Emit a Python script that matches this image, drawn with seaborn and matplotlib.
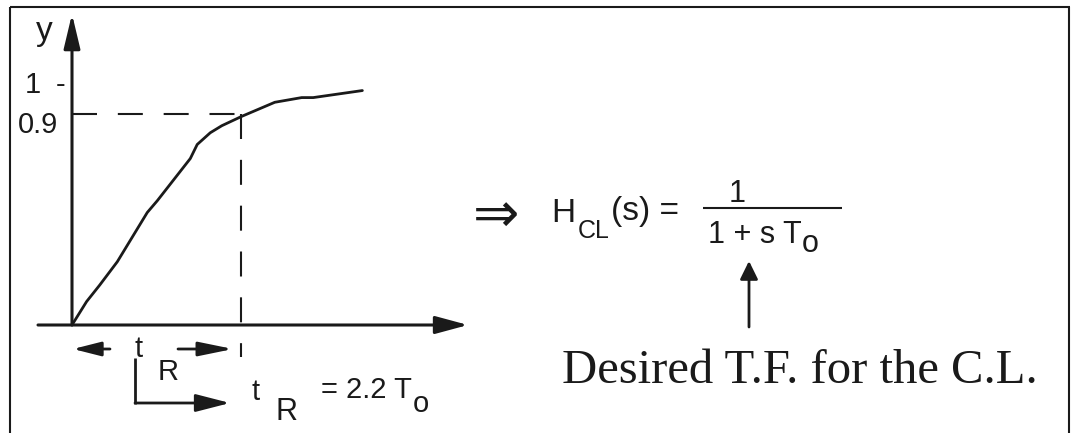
import pandas as pd
import matplotlib
matplotlib.use('Agg')
import matplotlib.pyplot as plt
import seaborn as sns

sns.set_theme(style='white')
plt.rcParams['font.family'] = ['Liberation Sans', 'DejaVu Sans']

# 阶跃响应曲线数据（时间以 T_o 为单位）
t_vals = [0.0, 0.19, 0.36, 0.59, 0.98, 1.11, 1.54, 1.63, 1.80, 1.95, 2.21, 2.64, 2.99, 3.14, 3.78]
y_vals = [0.0, 0.10, 0.17, 0.27, 0.48, 0.53, 0.71, 0.77, 0.82, 0.85, 0.89, 0.95, 0.97, 0.97, 1.00]
level = 0.9
t_rise = 2.2
y_labels = ['1', '0.9']

df = pd.DataFrame({'t': t_vals, 'y': y_vals})

# 画布尺寸（像素）与坐标换算
W, H = 1071, 433
X0, Y0 = 72, 325
kx = 169 / t_rise
ky = 211 / level


def P(x, y):
    return (x / W, 1 - y / H)


fig = plt.figure(figsize=(W / 100, H / 100), dpi=100)
ax = fig.add_axes([0, 0, 1, 1])
ax.set_xlim(-X0 / kx, (W - X0) / kx)
ax.set_ylim((Y0 - H) / ky, Y0 / ky)
ax.axis('off')


def line(x0, y0, x1, y1, lw=1.5):
    ax.plot([x0 / W, x1 / W], [1 - y0 / H, 1 - y1 / H], color='k', lw=lw,
            transform=ax.transAxes, clip_on=False, solid_capstyle='butt')


def arrow(x0, y0, x1, y1, hl, hw, lw=2.0):
    ax.annotate('', xy=P(x1, y1), xytext=P(x0, y0),
                xycoords='axes fraction', textcoords='axes fraction',
                arrowprops=dict(arrowstyle=f'-|>,head_length={hl},head_width={hw}',
                                lw=lw, color='k', shrinkA=0, shrinkB=0,
                                mutation_scale=1))


def txt(x, y, s, size=21, ha='center', **kw):
    ax.text(x / W, 1 - y / H, s, fontsize=size, ha=ha, va='baseline',
            transform=ax.transAxes, color='k', **kw)


# 外框
line(10, 7, 1070, 7)
line(10, 7, 10, 433)
line(1069, 7, 1069, 433)

# 坐标轴
arrow(72, 325, 72, 14, hl=21, hw=5, lw=2.2)
arrow(38, 325, 468, 325, hl=20, hw=5.4, lw=2.2)

# 响应曲线
sns.lineplot(data=df, x='t', y='y', sort=False, color='k', lw=2, ax=ax)

# 0.9 虚线与 t_R 虚线
ax.plot([0, t_rise], [level, level], color='k', lw=1.5, ls=(0, (12, 10)))
ax.plot([t_rise, t_rise], [level, (Y0 - 357) / ky], color='k', lw=1.5, ls=(0, (12, 10)))

# 纵轴标注
txt(44, 40, 'y', size=24)
txt(33, 93, y_labels[0])
txt(61, 93, '-')
txt(58, 133, y_labels[1], ha='right')

# t_R 标注
arrow(110, 349, 73, 349, hl=17, hw=4.3)
arrow(178, 349, 233, 349, hl=21, hw=4.3)
txt(139, 357, 't')
txt(168, 380, 'R')
line(135, 358, 135, 404, lw=2)
arrow(135, 403, 230, 403, hl=21, hw=5.4)
txt(256, 400, 't')
txt(286, 420, 'R', size=22)
txt(321, 398, '= 2.2 T', ha='left')
txt(421, 412, 'o')

# 闭环传递函数
txt(496, 232, '⇒', size=40, family=['DejaVu Sans'])
txt(563, 222, 'H', size=24)
txt(594, 238, 'CL', size=18)
txt(611, 220, '(s) =', size=24, ha='left')
txt(737, 202, '1', size=22)
line(703, 208, 842, 208, lw=1.5)
txt(802, 243, '1 + s T', size=22, ha='right')
txt(810, 252, 'o', size=22)
arrow(749, 327, 749, 261, hl=11, hw=5.4)
txt(800, 383, 'Desired T.F. for the C.L.', size=35, family=['Liberation Serif'])

fig.savefig('out.png', dpi=100)
plt.close(fig)
